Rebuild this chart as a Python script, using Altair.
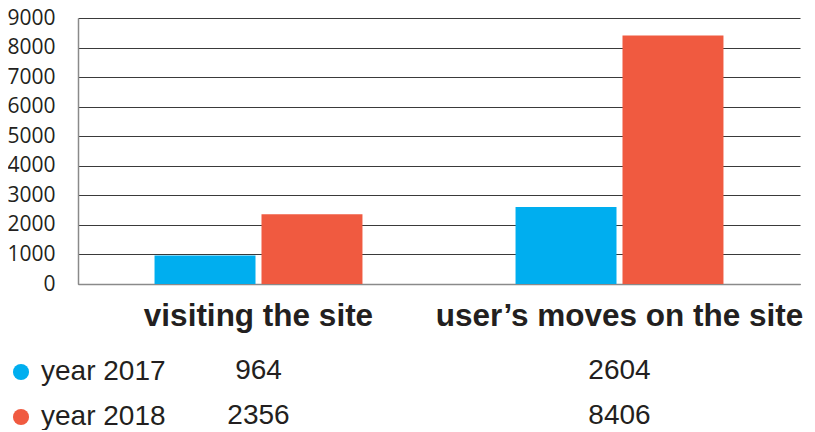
import altair as alt
import pandas as pd

categories = ["visiting the site", "user\u2019s moves on the site"]
years = ["year 2017", "year 2018"]
values_2017 = [964, 2604]
values_2018 = [2356, 8406]
colors = ["#00AEEF", "#F05A40"]
y_ticks = [0, 1000, 2000, 3000, 4000, 5000, 6000, 7000, 8000, 9000]

rows = []
for i, c in enumerate(categories):
    rows.append({"category": c, "year": years[0], "value": values_2017[i]})
    rows.append({"category": c, "year": years[1], "value": values_2018[i]})
df = pd.DataFrame(rows)

x_enc = alt.X(
    "category:N",
    sort=categories,
    scale=alt.Scale(paddingInner=0.424, paddingOuter=0.212),
    axis=alt.Axis(
        title=None,
        labelAngle=0,
        labelFont="Liberation Sans",
        labelFontWeight="bold",
        labelFontSize=31.5,
        labelColor="#231F20",
        labelPadding=16,
        labelLimit=500,
        ticks=False,
        domainColor="#8a8a8a",
        domainWidth=1.5,
        grid=False,
    ),
)

bars = alt.Chart(df).mark_bar().encode(
    x=x_enc,
    xOffset=alt.XOffset("year:N", sort=years, scale=alt.Scale(paddingInner=0.056)),
    y=alt.Y(
        "value:Q",
        scale=alt.Scale(domain=[0, 9000], nice=False),
        axis=alt.Axis(
            title=None,
            values=y_ticks,
            labelFont="Open Sans",
            labelFontSize=21,
            labelColor="#231F20",
            labelPadding=23,
            ticks=False,
            domainColor="#8a8a8a",
            domainWidth=1.5,
            gridColor="#3a3a3a",
            gridWidth=1.2,
            format="d",
        ),
    ),
    color=alt.Color(
        "year:N",
        sort=years,
        scale=alt.Scale(domain=years, range=colors),
        legend=alt.Legend(
            title=None,
            orient="none",
            legendX=-71,
            legendY=340,
            direction="vertical",
            symbolType="circle",
            symbolSize=260,
            symbolStrokeWidth=0,
            labelFont="Liberation Sans",
            labelFontSize=28,
            labelColor="#231F20",
            labelOffset=6,
            rowPadding=17,
            labelLimit=300,
        ),
    ),
)

table = alt.Chart(df).mark_text(
    font="Liberation Sans", fontSize=28, color="#231F20", baseline="middle", align="center"
).encode(
    x=alt.X("category:N", sort=categories),
    y=alt.Y(
        "year:N",
        sort=years,
        scale=alt.Scale(range=[353, 398], padding=0),
        axis=None,
    ),
    text=alt.Text("value:Q", format="d"),
)

chart = (
    alt.layer(bars, table)
    .resolve_scale(y="independent")
    .properties(
        width=722,
        height=266,
        autosize=alt.AutoSizeParams(type="none"),
        padding={"left": 70, "top": 10, "right": 5, "bottom": 146},
        background="white",
    )
    .configure_view(stroke=None)
)

chart.save("out.html", embed_options={"renderer": "svg", "actions": False})
